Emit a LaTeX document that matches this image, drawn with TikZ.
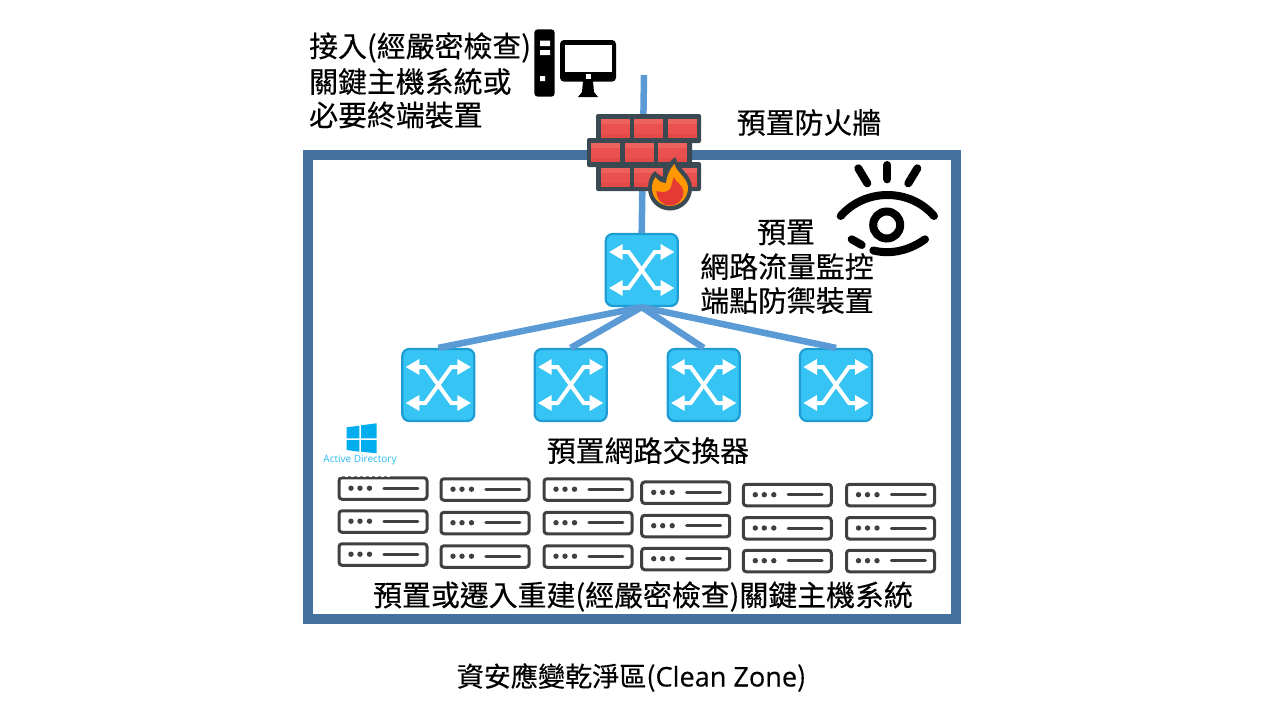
\documentclass[tikz,border=0pt]{standalone}
\usepackage{fontspec}
\setmainfont{Noto Sans CJK TC}[FakeBold=0.35]
\newfontfamily\latinfont{Open Sans}
\newfontfamily\latinbold{Open Sans}[FakeBold=0.35]
\definecolor{framec}{HTML}{44729F}
\definecolor{linkc}{HTML}{5B9BD5}
\definecolor{swfill}{HTML}{35C4F4}
\definecolor{swedge}{HTML}{1E9CD3}
\definecolor{srvc}{HTML}{404040}
\definecolor{brickdark}{HTML}{3B4A52}
\definecolor{brick}{HTML}{EA504D}
\definecolor{bricklight}{HTML}{EE625E}
\definecolor{brickshade}{HTML}{E34A47}
\definecolor{flameo}{HTML}{FF9800}
\definecolor{flamer}{HTML}{E53935}
\definecolor{wincol}{HTML}{00ADEF}
\tikzset{
  x=1pt,y=-1pt,
  switchbox/.style={draw=swedge,fill=swfill,line width=2.2pt,rounded corners=7pt,minimum width=72pt,minimum height=72pt,inner sep=0pt},
  serverbox/.style={draw=srvc,fill=white,line width=3pt,rounded corners=3pt,minimum width=88pt,minimum height=21.5pt,inner sep=0pt},
  link/.style={draw=linkc,line width=6.5pt},
  label/.style={inner sep=0pt,font=\fontsize{28.9}{34}\selectfont,text=black},
  eyeline/.style={draw=black,line width=8pt,line cap=round},
  switchicon/.pic={
    \draw[white,line width=4pt] (-20,-18)--(-13,-18)--(13,18)--(20,18);
    \draw[white,line width=4pt] (-20,18)--(-13,18)--(13,-18)--(20,-18);
    \fill[white] (-32.5,-18)--(-19,-26)--(-19,-10)--cycle;
    \fill[white] (32.5,-18)--(19,-26)--(19,-10)--cycle;
    \fill[white] (-32.5,18)--(-19,26)--(-19,10)--cycle;
    \fill[white] (32.5,18)--(19,26)--(19,10)--cycle;
  },
  servericon/.pic={
    \fill[srvc] (-32,-0.3) circle (2.7) (-23,-0.3) circle (2.7) (-13.5,-0.3) circle (2.7);
    \draw[srvc,line width=3pt,line cap=round] (0.8,-0.3)--(34.8,-0.3);
  }
}
\newcommand{\brickat}[2]{%
  \fill[brick] (#1,#2) rectangle ++(29,19);
  \fill[bricklight] (#1,#2) rectangle ++(29,5);
  \fill[brickshade] (#1,#2+15) rectangle ++(29,4);
}
\begin{document}
\begin{tikzpicture}
\useasboundingbox (0,0) rectangle (1280,720);
\fill[white] (0,0) rectangle (1280,720);
% frame
\draw[framec,line width=10pt,miter limit=10] (307.7,155) rectangle (956,619);
% links
\coordinate (uplink) at (644,75);
\node[switchbox] (core) at (641.7,270) {};
\draw[link] (uplink) -- (core.north);
% firewall
\fill[brickdark,rounded corners=2pt] (596,114) rectangle (701,143);
\fill[brickdark,rounded corners=2pt] (587,138) rectangle (692,167);
\fill[brickdark,rounded corners=2pt] (596,162) rectangle (701,191);
\brickat{600.5}{119}\brickat{634}{119}\brickat{667.5}{119}
\brickat{591}{143.3}\brickat{624.5}{143.3}\brickat{658}{143.3}
\brickat{600.5}{167.5}\brickat{634}{167.5}\brickat{667.5}{167.5}
% flame
\fill[brickdark] (675.5,157) .. controls (677,168) and (692,174) .. (692,188)
  .. controls (692,201) and (682,210.5) .. (670,210.5)
  .. controls (658,210.5) and (648,201) .. (648,188)
  .. controls (648,181) and (650,175) .. (655,171)
  .. controls (657,174) and (660,176) .. (663,177)
  .. controls (664,170) and (668,162) .. (675.5,157) -- cycle;
\fill[flameo] (674.5,164) .. controls (676,172) and (688,178) .. (688,188)
  .. controls (688,198) and (680,206) .. (670,206)
  .. controls (660,206) and (652,198) .. (652,188)
  .. controls (652,184) and (653,181) .. (655.5,177)
  .. controls (658,181) and (662,183) .. (666,183)
  .. controls (667,176) and (669,170) .. (674.5,164) -- cycle;
\fill[flamer] (674,177) .. controls (675,182) and (683.5,185) .. (683.5,192)
  .. controls (683.5,199) and (678,205.5) .. (670,205.5)
  .. controls (662,205.5) and (656.5,199) .. (656.5,191)
  .. controls (661,192.5) and (667,193) .. (670,189)
  .. controls (672,186) and (672,181) .. (674,177) -- cycle;
% switches
\node[switchbox] (sa) at (438.3,385) {};
\node[switchbox] (sb) at (570.7,385) {};
\node[switchbox] (sc) at (703.7,385) {};
\node[switchbox] (sd) at (836,385) {};
\foreach \n in {core,sa,sb,sc,sd} {\pic at (\n) {switchicon};}
\foreach \n in {sa,sb,sc,sd} {\draw[link] (core.south) -- (\n.north);}
% computer
\fill[black,rounded corners=3.5pt] (534.3,29.3) rectangle (554.7,96.7);
\fill[white] (540,40.7) rectangle (550,46) (540,50) rectangle (550,55) (540,76) rectangle (545,81);
\fill[black,rounded corners=4pt] (560,40) rectangle (616,81.7);
\fill[white] (565,45) rectangle (611.7,71.7);
\fill[white] (585.5,73.5) rectangle (590.5,78.5);
\fill[black] (583,81) -- (593,81) -- (594,92) -- (598,97) -- (578,97) -- (582,92) -- cycle;
% eye
\draw[eyeline] (858.3,168.3) -- (867.3,183.3);
\draw[eyeline] (887.3,165) -- (887.3,179.3);
\draw[eyeline] (917.3,168.3) -- (908.3,183.3);
\draw[eyeline] (840.7,216) .. controls (865,188) and (910,188) .. (934,216);
\draw[eyeline] (886.7,225) circle (13.5);
\draw[eyeline] (873.3,250.5) .. controls (892,255) and (910,250) .. (925,239.3);
\draw[eyeline] (851.7,239.3) -- (861.7,245);
% windows logo
\fill[wincol] (346.7,427.3) -- (359.3,425.7) -- (359.3,438.3) -- (346.7,438.3) -- cycle;
\fill[wincol] (361,425.3) -- (376.7,423.3) -- (376.7,438.3) -- (361,438.3) -- cycle;
\fill[wincol] (346.7,440) -- (359.3,440) -- (359.3,451.7) -- (346.7,450) -- cycle;
\fill[wincol] (361,440) -- (376.7,440) -- (376.7,453.3) -- (361,451.7) -- cycle;
\node[inner sep=0pt,text=wincol!85,font=\latinfont\fontsize{10}{12}\selectfont] (adlabel) at (360,460) {Active Directory};
% servers
\foreach \nm/\cx/\cy in {
  a1/383/488.5,a2/383/521.5,a3/383/554.5,
  b1/485/489.5,b2/485/523,b3/485/556.5,
  c1/588/489.5,c2/588/523,c3/588/556.5,
  d1/685.7/492.7,d2/685.7/526,d3/685.7/559,
  e1/787.3/495,e2/787.3/528.3,e3/787.3/561,
  f1/890.5/495,f2/890.5/528.3,f3/890.5/561} {
  \node[serverbox] (\nm) at (\cx,\cy) {};
  \pic at (\nm) {servericon};
}
\draw[white,line width=1.5pt,dash pattern=on 3pt off 3pt] (339,476) -- (392,476);
% labels
\node[label,anchor=west] (t1) at (309,47.5) {接入(經嚴密檢查)};
\node[label,anchor=west] (t2) at (309,81.5) {關鍵主機系統或};
\node[label,anchor=west] (t3) at (309,115) {必要終端裝置};
\node[label] (t4) at (809,122.5) {預置防火牆};
\node[label] (t5) at (786,232.5) {預置};
\node[label] (t6) at (787,266.5) {網路流量監控};
\node[label] (t7) at (787,300.5) {端點防禦裝置};
\node[label] (t8) at (648,450.5) {預置網路交換器};
\node[label] (t9) at (643,596.5) {預置或遷入重建(經嚴密檢查)關鍵主機系統};
\node[inner sep=0pt,text=black,font=\fontsize{27.1}{30}\selectfont] (t10) at (631.5,677.5) {資安應變乾淨區({\latinbold Clean Zone})};
\end{tikzpicture}
\end{document}
